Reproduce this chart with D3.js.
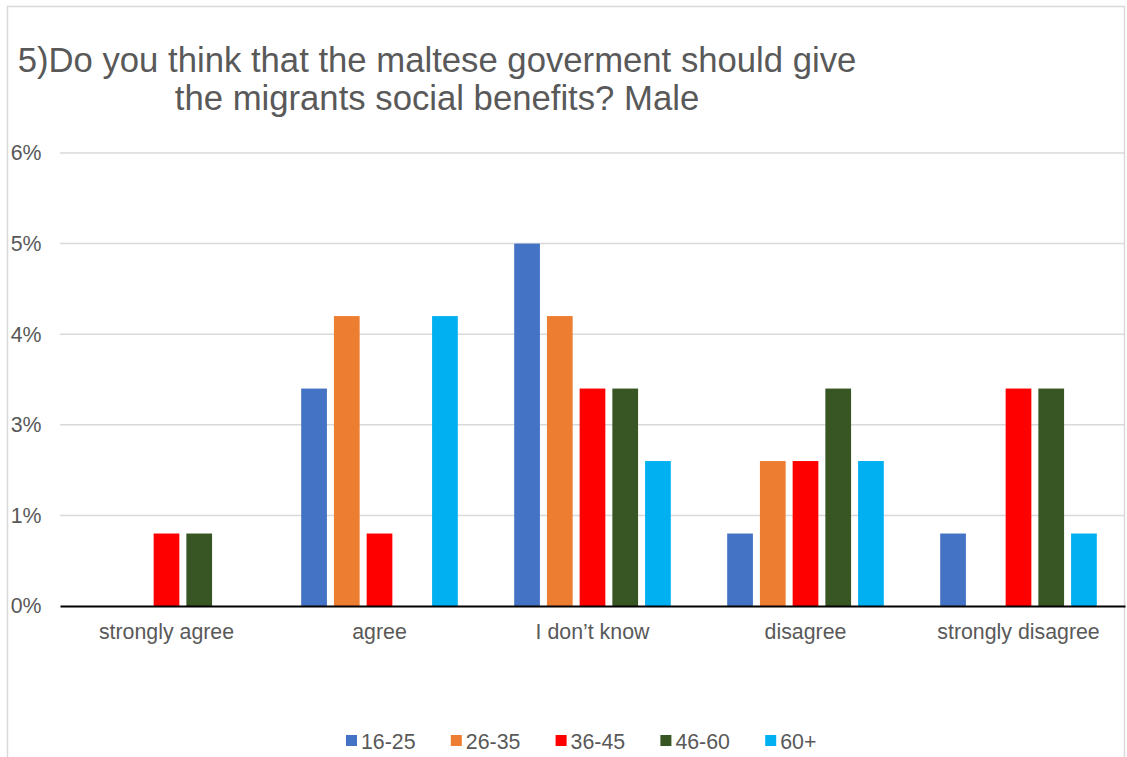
<!DOCTYPE html>
<html>
<head>
<meta charset="utf-8">
<script src="https://cdn.jsdelivr.net/npm/d3@7"></script>
<style>
  html, body { margin: 0; padding: 0; background: #fff; }
  svg { display: block; font-family: "Liberation Sans", Arial, sans-serif; }
</style>
</head>
<body>
<svg id="chart" width="1127" height="757"></svg>
<script>
const categories = ["strongly agree", "agree", "I don\u2019t know", "disagree", "strongly disagree"];
const seriesNames = ["16-25", "26-35", "36-45", "46-60", "60+"];
const seriesColors = ["#4472C4", "#ED7D31", "#FF0000", "#375623", "#00B0F0"];
// values in percent, per series, in category order
const s16_25 = [0, 3, 5, 1, 1];
const s26_35 = [0, 4, 4, 2, 0];
const s36_45 = [1, 1, 3, 2, 3];
const s46_60 = [1, 0, 3, 3, 3];
const s60p   = [0, 4, 2, 2, 1];
const yTickValues = [0, 1.25, 2.5, 3.75, 5, 6.25];
const yTickLabels = ["0%", "1%", "3%", "4%", "5%", "6%"];
const titleLines = ["5)Do you think that the maltese goverment should give", "the migrants social benefits? Male"];

const seriesValues = [s16_25, s26_35, s36_45, s46_60, s60p];
const data = categories.map((c, i) => ({
  cat: c,
  vals: seriesNames.map((s, j) => ({ key: s, value: seriesValues[j][i], color: seriesColors[j] }))
}));

const svg = d3.select("#chart");
const textColor = "#595959";
const fs = "21.33px";

// border
svg.append("rect")
  .attr("x", 7.5).attr("y", 6.5).attr("width", 1117).attr("height", 800)
  .attr("fill", "#fff").attr("stroke", "#d9d9d9").attr("stroke-width", 1.5);

const plot = { left: 60, right: 1125, top: 153, bottom: 606 };

const x0 = d3.scaleBand().domain(categories).range([plot.left, plot.right]).padding(0);
const groupPad = 28.2;
const x1 = d3.scaleBand().domain(seriesNames)
  .range([groupPad, x0.bandwidth() - groupPad]).paddingInner(0.214).paddingOuter(0);
const y = d3.scaleLinear().domain([0, 6.25]).range([plot.bottom, plot.top]);

// gridlines
svg.append("g").selectAll("line").data(yTickValues.filter(v => v > 0)).join("line")
  .attr("x1", plot.left).attr("x2", plot.right)
  .attr("y1", d => y(d)).attr("y2", d => y(d))
  .attr("stroke", "#d9d9d9").attr("stroke-width", 1.5);

// y axis labels
const yAxis = d3.axisLeft(y).tickValues(yTickValues)
  .tickFormat((d, i) => yTickLabels[i]).tickSize(0).tickPadding(0);
const yg = svg.append("g").attr("transform", `translate(41.5,0)`).call(yAxis);
yg.select(".domain").remove();
yg.selectAll("text").attr("fill", textColor).style("font-size", fs)
  .style("font-family", "'Liberation Sans', Arial, sans-serif");

// bars
const groups = svg.append("g").selectAll("g").data(data).join("g")
  .attr("transform", d => `translate(${x0(d.cat)},0)`);
groups.selectAll("rect").data(d => d.vals.filter(v => v.value > 0)).join("rect")
  .attr("x", d => x1(d.key))
  .attr("width", x1.bandwidth())
  .attr("y", d => y(d.value))
  .attr("height", d => y(0) - y(d.value))
  .attr("fill", d => d.color);

// x axis
const xAxis = d3.axisBottom(x0).tickSize(0).tickPadding(18);
const xg = svg.append("g").attr("transform", `translate(0,${plot.bottom})`).call(xAxis);
xg.select(".domain").attr("stroke", "#000").attr("stroke-width", 2.2);
xg.selectAll("text").attr("fill", textColor).style("font-size", fs)
  .style("font-family", "'Liberation Sans', Arial, sans-serif");

// title
const title = svg.append("text").attr("x", 437).attr("y", 72)
  .attr("text-anchor", "middle").attr("fill", textColor).style("font-size", "34.7px");
titleLines.forEach((l, i) => {
  title.append("tspan").attr("x", 437).attr("dy", i === 0 ? 0 : 38).text(l);
});

// legend
const legend = svg.append("g").attr("transform", "translate(346,735)");
const li = legend.selectAll("g").data(seriesNames).join("g")
  .attr("transform", (d, i) => `translate(${i * 104.8},0)`);
li.append("rect").attr("width", 11).attr("height", 11).attr("fill", (d, i) => seriesColors[i]);
li.append("text").attr("x", 15).attr("y", 13.5).attr("fill", textColor)
  .style("font-size", fs).text(d => d);
</script>
</body>
</html>
